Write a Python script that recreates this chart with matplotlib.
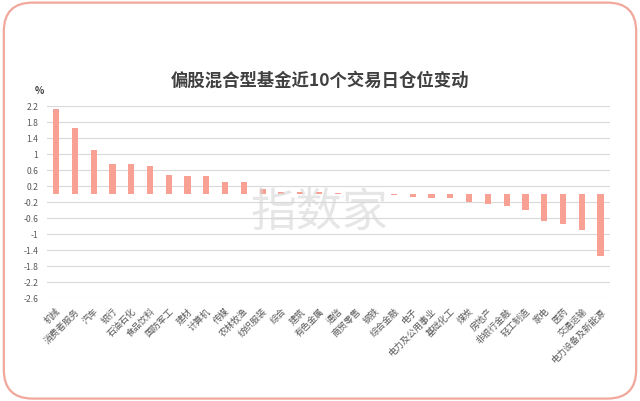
import matplotlib.pyplot as plt
from matplotlib.patches import FancyBboxPatch
import numpy as np

plt.rcParams['font.family'] = ['Noto Sans CJK SC', 'DejaVu Sans']

industries = ['机械', '消费者服务', '汽车', '银行', '石油石化', '食品饮料', '国防军工', '建材',
              '计算机', '传媒', '农林牧渔', '纺织服装', '综合', '建筑', '有色金属', '通信',
              '商贸零售', '钢铁', '综合金融', '电子', '电力及公用事业', '基础化工', '煤炭',
              '房地产', '非银行金融', '轻工制造', '家电', '医药', '交通运输', '电力设备及新能源']
changes = [2.12, 1.64, 1.09, 0.75, 0.73, 0.68, 0.47, 0.45,
           0.43, 0.29, 0.29, 0.11, 0.05, 0.04, 0.04, 0.02,
           -0.02, -0.02, -0.03, -0.09, -0.1, -0.1, -0.22,
           -0.26, -0.3, -0.42, -0.69, -0.76, -0.92, -1.55]
yticks = [2.2, 1.8, 1.4, 1, 0.6, 0.2, -0.2, -0.6, -1, -1.4, -1.8, -2.2, -2.6]
ytick_labels = ['2.2', '1.8', '1.4', '1', '0.6', '0.2', '-0.2', '-0.6', '-1', '-1.4', '-1.8', '-2.2', '-2.6']

fig = plt.figure(figsize=(6.4, 4.02), dpi=100)

# rounded frame, drawn behind the axes
frame = FancyBboxPatch((0.006, 0.006), 0.988, 0.985, boxstyle='round,pad=0,rounding_size=0.045',
                       transform=fig.transFigure, facecolor='none', edgecolor='#F2A79B',
                       linewidth=1.6, mutation_aspect=640 / 402, zorder=-5)
fig.patches.append(frame)

ax = fig.add_axes([0.073, 0.257, 0.880, 0.478])
ax.patch.set_alpha(0)
x = np.arange(len(industries))
ax.bar(x, changes, width=0.33, color='#F7A093', zorder=3)

ax.set_xlim(-0.5, len(industries) - 0.5)
ax.set_ylim(-2.6, 2.2)
ax.set_yticks(yticks)
ax.set_yticklabels(ytick_labels)
ax.grid(axis='y', color='#D9D9D9', linewidth=0.8, zorder=0)
ax.set_axisbelow(True)
for s in ax.spines.values():
    s.set_visible(False)
ax.tick_params(axis='y', length=0, labelsize=6.2, labelcolor='#595959', pad=6)
ax.tick_params(axis='x', length=0, pad=6)
ax.set_xticks(x)
ax.set_xticklabels(industries, rotation=45, ha='right', rotation_mode='anchor',
                   fontsize=6.5, color='#595959')

# watermark
ax.text(0.485, 0.45, '指数家', transform=ax.transAxes, fontsize=33, color='#D6D6D6',
        alpha=0.6, ha='center', va='center', zorder=4)

fig.text(0.5, 0.80, '偏股混合型基金近10个交易日仓位变动', ha='center', va='center',
         fontsize=12.5, fontweight='bold', color='#404040')
fig.text(0.062, 0.773, '%', ha='center', va='center', fontsize=7, fontweight='bold',
         color='#404040')

fig.savefig('out.png', dpi=100)
